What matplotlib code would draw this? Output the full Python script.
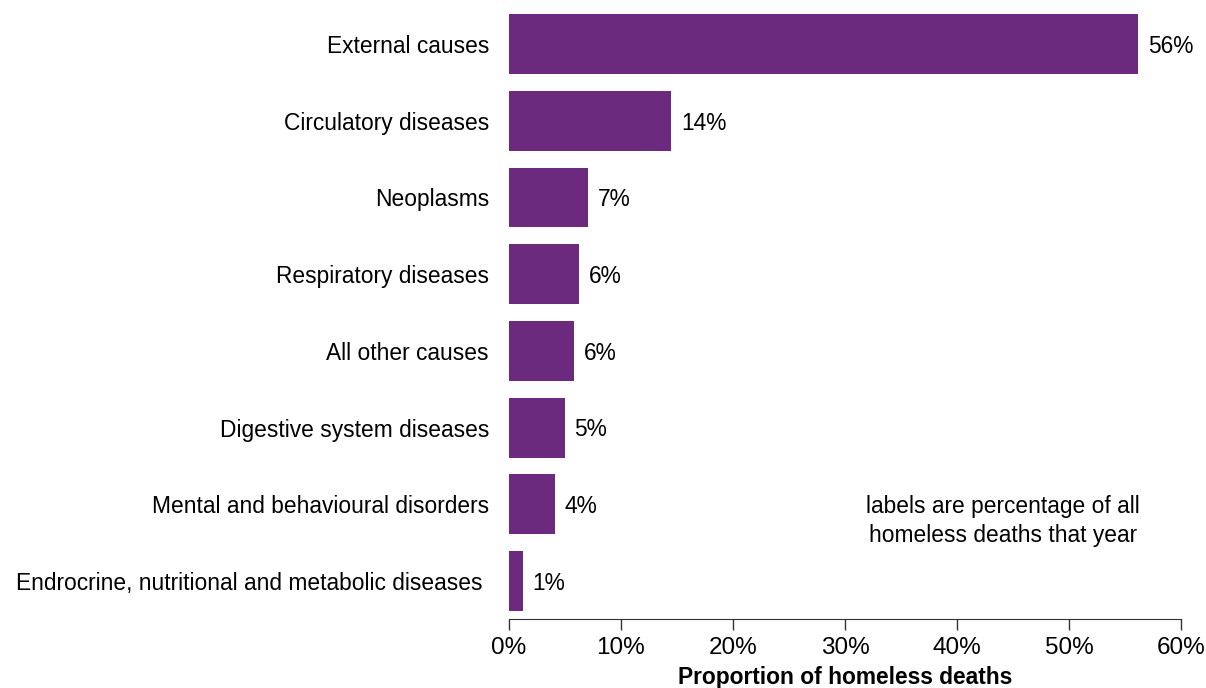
import matplotlib
matplotlib.use("Agg")
import matplotlib.pyplot as plt
from matplotlib.ticker import FuncFormatter

categories = [
    "External causes",
    "Circulatory diseases",
    "Neoplasms",
    "Respiratory diseases",
    "All other causes",
    "Digestive system diseases",
    "Mental and behavioural disorders",
    "Endrocrine, nutritional and metabolic diseases ",
]
shares = [56.2, 14.5, 7.05, 6.25, 5.8, 5.0, 4.1, 1.25]
x_ticks = [0, 10, 20, 30, 40, 50, 60]

bar_color = "#6C2A7E"
font = "Liberation Sans"
narrow = ["Liberation Sans Narrow", "Liberation Sans"]

fig = plt.figure(figsize=(12.06, 6.88), dpi=100)
ax = fig.add_axes([509 / 1206, 1 - 619 / 688, 672 / 1206, 619 / 688])

ypos = list(range(len(categories)))
ax.barh(ypos, shares, height=0.78, color=bar_color)

for y, v in zip(ypos, shares):
    ax.text(v + 0.85, y + 0.03, f"{round(v):.0f}%", va="center", ha="left",
            fontsize=16.4, family=font, color="black")

ax.set_xlim(0, 60)
ax.set_ylim(7.495, -0.574)
ax.set_yticks(ypos)
ax.set_yticklabels(categories, fontsize=16.4, family=font)
ax.tick_params(axis="y", length=0, pad=14.4)

ax.set_xticks(x_ticks)
ax.xaxis.set_major_formatter(FuncFormatter(lambda v, p: f"{v:.0f}%"))
ax.tick_params(axis="x", direction="out", length=8, width=1, color="#333333",
               pad=5)
for lab in ax.get_xticklabels():
    lab.set_fontsize(17.5)
    lab.set_family(narrow)

ax.set_xlabel("Proportion of homeless deaths", fontsize=16.4, family=narrow,
              fontweight="bold", labelpad=5)

for s in ["top", "right", "left"]:
    ax.spines[s].set_visible(False)
ax.spines["bottom"].set_color("#333333")

ax.text(44.1, 6.22, "labels are percentage of all\nhomeless deaths that year",
        ha="center", va="center", fontsize=16.4, family=font, linespacing=1.3)

fig.savefig("out.png", dpi=100)
